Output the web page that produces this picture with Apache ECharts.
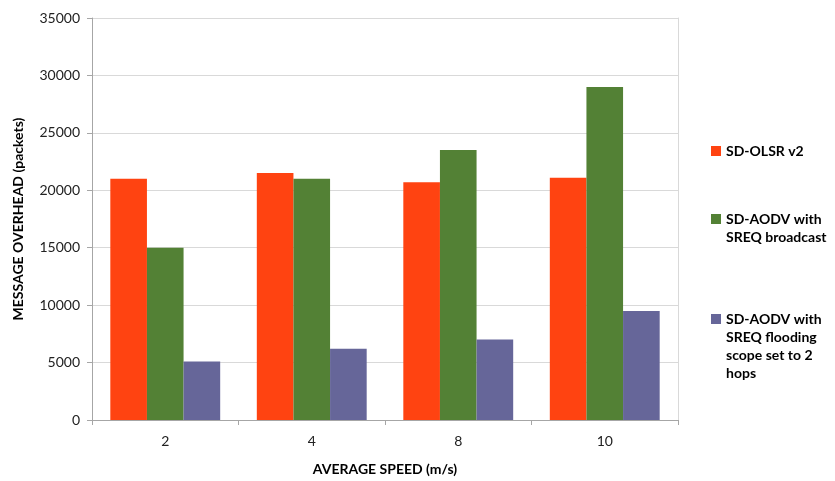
<!DOCTYPE html>
<html><head><meta charset="utf-8">
<script src="https://cdn.jsdelivr.net/npm/echarts@6/dist/echarts.min.js"></script>
<style>html,body{margin:0;padding:0;background:#fff}#c{width:835px;height:481px}</style>
</head><body><div id="c"></div>
<script>
var categories = ['2', '4', '8', '10'];
var seriesNames = ['SD-OLSR v2', 'SD-AODV with SREQ broadcast', 'SD-AODV with SREQ flooding scope set to 2 hops'];
var olsr = [21000, 21500, 20700, 21100];
var aodvBroadcast = [15000, 21000, 23500, 29000];
var aodvFlooding = [5100, 6200, 7000, 9500];
var legendLabels = ['SD-OLSR v2', '\nSD-AODV with\nSREQ broadcast', '\n\n\nSD-AODV with\nSREQ flooding\nscope set to 2\nhops'];
var colors = ['#FF4311', '#538135', '#666699'];

var chart = echarts.init(document.getElementById('c'));
function mkLegend(i, top) {
  return {
    data: [seriesNames[i]], left: 706, top: top, orient: 'vertical',
    itemWidth: 10, itemHeight: 10, itemGap: 0,
    icon: 'rect',
    formatter: function () { return legendLabels[i]; },
    textStyle: { fontFamily: 'Lato', fontWeight: 'bold', fontSize: 14, color: '#000', lineHeight: 18 }
  };
}
chart.setOption({
  animation: false,
  color: colors,
  grid: { left: 92, top: 18, right: 157, bottom: 56, containLabel: false },
  legend: [mkLegend(0, 137), mkLegend(1, 187), mkLegend(2, 251)],
  xAxis: {
    type: 'category', data: categories,
    name: 'AVERAGE SPEED (m/s)', nameLocation: 'middle', nameGap: 42,
    nameTextStyle: { fontFamily: 'Lato', fontWeight: 'bold', fontSize: 14, color: '#000' },
    axisLine: { lineStyle: { color: '#a6a6a6' } },
    axisTick: { show: true, length: 5, lineStyle: { color: '#a6a6a6' } },
    axisLabel: { fontFamily: 'Lato', fontSize: 14, color: '#222', margin: 14 }
  },
  yAxis: [{
    type: 'value', min: 0, max: 35000, interval: 5000,
    name: 'MESSAGE OVERHEAD (packets)', nameLocation: 'middle', nameGap: 67,
    nameTextStyle: { fontFamily: 'Lato', fontWeight: 'bold', fontSize: 14, color: '#000' },
    axisLine: { show: true, lineStyle: { color: '#a6a6a6' } },
    axisTick: { show: true, length: 5, lineStyle: { color: '#a6a6a6' } },
    axisLabel: { fontFamily: 'Lato', fontSize: 14, color: '#222', margin: 12, formatter: function (v) { return String(v); } },
    splitLine: { lineStyle: { color: '#d9d9d9' } }
  }, {
    type: 'value', min: 0, max: 35000, interval: 5000, position: 'right',
    axisLine: { show: true, lineStyle: { color: '#d9d9d9' } },
    axisTick: { show: false }, axisLabel: { show: false }, splitLine: { show: false }
  }],
  series: [
    { name: seriesNames[0], type: 'bar', data: olsr, barGap: '0%', barCategoryGap: '25%' },
    { name: seriesNames[1], type: 'bar', data: aodvBroadcast, barGap: '0%', barCategoryGap: '25%' },
    { name: seriesNames[2], type: 'bar', data: aodvFlooding, barGap: '0%', barCategoryGap: '25%' }
  ]
});
</script></body></html>
